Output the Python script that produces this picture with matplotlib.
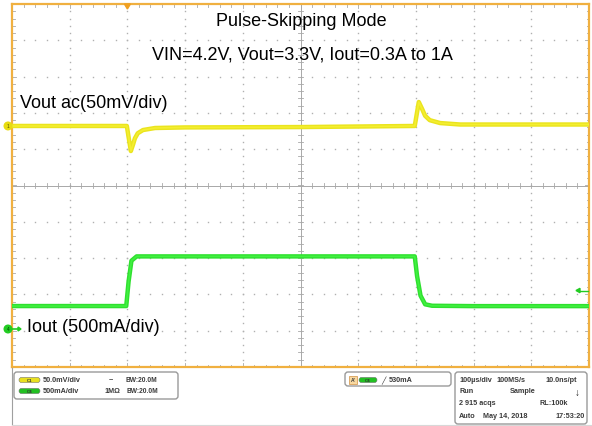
import numpy as np
import matplotlib
matplotlib.use("Agg")
import matplotlib.pyplot as plt
from matplotlib.patches import FancyBboxPatch, Circle, Polygon, Rectangle

plt.rcParams['font.family'] = ['Liberation Sans', 'DejaVu Sans']

# ---------------- data (time in µs relative to screen centre) ----------------
t_vout = [-500, -301, -298, -294, -290, -287, -282, -273, -252, -200, 0, 198, 205, 211, 216, 224, 242, 277, 500]
vout_mv = [0, 0, -15, -34.5, -25, -17, -10, -5.6, -2.8, -2, -1.5, 0, 33, 23, 14, 8, 4, 2, 2]

t_iout = [-500, -302, -298, -293, -284, -270, 0, 198, 202, 208, 216, 228, 300, 500]
iout_a = [0.316, 0.316, 0.65, 0.94, 1.0, 1.0, 1.0, 1.0, 0.73, 0.46, 0.34, 0.32, 0.315, 0.315]

ch1_offset_div = 1.64      # Vout ac ground marker
ch4_offset_div = -3.953    # Iout ground marker
ch1_scale_mv = 50.0
ch4_scale_a = 0.5
trig_level_a = 0.53
trig_time_us = -300

title1 = "Pulse-Skipping Mode"
title2 = "VIN=4.2V, Vout=3.3V, Iout=0.3A to 1A"
label1 = "Vout ac(50mV/div)"
label4 = "Iout (500mA/div)"

W, H = 592, 427
fig = plt.figure(figsize=(W / 100, H / 100), dpi=100)
fig.patch.set_facecolor('white')

L, R, T, B = 12, 589, 5, 368
ax = fig.add_axes([L / W, 1 - B / H, (R - L) / W, (B - T) / H])
ax.set_xlim(-500, 500)
ax.set_ylim(-5, 5)
ax.set_xticks([]); ax.set_yticks([])
orange = '#F0B040'
for s in ax.spines.values():
    s.set_color(orange)
    s.set_linewidth(1.6)

gcol = '#B0B0B0'
# dotted graticule
xmaj = np.arange(-400, 401, 100)
ymaj = np.arange(-4, 5, 1)
xmin_ = np.arange(-500, 501, 20)
ymin_ = np.arange(-5, 5.01, 0.2)
for xv in xmaj:
    if xv == 0:
        continue
    ax.plot(np.full_like(ymin_, xv, dtype=float), ymin_, ls='none', marker='s', ms=1.0, mew=0, color=gcol, zorder=1)
for yv in ymaj:
    if yv == 0:
        continue
    ax.plot(xmin_, np.full_like(xmin_, yv, dtype=float), ls='none', marker='s', ms=1.0, mew=0, color=gcol, zorder=1)

# centre crosshair
ax.axhline(0, color='#A8A8A8', lw=0.7, zorder=1)
ax.axvline(0, color='#A8A8A8', lw=0.7, zorder=1)
px_x = 1000 / (R - L)    # µs per pixel
px_y = 10 / (B - T)      # div per pixel
for xv in xmin_:
    ax.plot([xv, xv], [-2.5 * px_y, 2.5 * px_y], color='#A8A8A8', lw=0.6, zorder=1)
for yv in ymin_:
    ax.plot([-2.5 * px_x, 2.5 * px_x], [yv, yv], color='#A8A8A8', lw=0.6, zorder=1)
# edge ticks
for xv in xmin_:
    ln = 4 if abs(xv / 100 - round(xv / 100)) < 1e-6 else 2.5
    ax.plot([xv, xv], [-5, -5 + ln * px_y], color='#A8A8A8', lw=0.6, zorder=1)
    ax.plot([xv, xv], [5, 5 - ln * px_y], color='#A8A8A8', lw=0.6, zorder=1)
for yv in ymin_:
    ln = 4 if abs(yv - round(yv)) < 1e-6 else 2.5
    ax.plot([-500, -500 + ln * px_x], [yv, yv], color='#A8A8A8', lw=0.6, zorder=1)
    ax.plot([500, 500 - ln * px_x], [yv, yv], color='#A8A8A8', lw=0.6, zorder=1)

# traces
vpos = ch1_offset_div + np.array(vout_mv) / ch1_scale_mv
ipos = ch4_offset_div + np.array(iout_a) / ch4_scale_a
ax.plot(t_vout, vpos, color='#EAE41E', lw=3.2, solid_joinstyle='round', zorder=3)
ax.plot(t_vout, vpos, color='#F4EE30', lw=1.2, zorder=3)
ax.plot(t_iout, ipos, color='#2FE02F', lw=3.2, solid_joinstyle='round', zorder=3)
ax.plot(t_iout, ipos, color='#40F040', lw=1.2, zorder=3)

# ---------------- overlay in pixel coordinates ----------------
ov = fig.add_axes([0, 0, 1, 1], zorder=5)
ov.set_xlim(0, W); ov.set_ylim(H, 0)
ov.axis('off')
ov.patch.set_alpha(0)

def tx(x):
    return L + (x + 500) / 1000 * (R - L)

def ty(d):
    return T + (5 - d) / 10 * (B - T)

ov.text(301, 22, title1, ha='center', va='center', fontsize=13, color='black')
ov.text(302, 55, title2, ha='center', va='center', fontsize=13, color='black')
ov.text(20, 104, label1, ha='left', va='center', fontsize=13, color='black')
ov.text(27, 328, label4, ha='left', va='center', fontsize=13, color='black')

# channel markers
y1 = ty(ch1_offset_div)
ov.add_patch(Circle((8, y1), 3.8, color='#E8DC10', zorder=6))
ov.text(8, y1, '1', ha='center', va='center', fontsize=3.5, color='#555500', zorder=7)
y4 = ty(ch4_offset_div)
ov.add_patch(Circle((8, y4), 3.8, color='#22CC22', zorder=6))
ov.text(8, y4, '4', ha='center', va='center', fontsize=3.5, color='#004400', zorder=7)
ov.plot([11, 18], [y4, y4], color='#22CC22', lw=1.2, zorder=6)
ov.add_patch(Polygon([[18, y4 - 2], [21, y4], [18, y4 + 2]], color='#22CC22', zorder=6))
# trigger level marker
yt = ty(ch4_offset_div + trig_level_a / ch4_scale_a)
ov.add_patch(Polygon([[576, yt], [580, yt - 2.2], [580, yt + 2.2]], color='#22CC22', zorder=6))
ov.plot([580, 588], [yt, yt], color='#22CC22', lw=1.0, zorder=6)
# trigger position marker
xt = tx(trig_time_us)
ov.add_patch(Polygon([[xt - 3, 5], [xt + 3, 5], [xt, 10]], color='#F0A020', zorder=6))

# ---------------- bottom status panel ----------------
ov.plot([12, 12], [369, 426], color='#A0A0A0', lw=0.8)
ov.plot([12, 592], [425.5, 425.5], color='#D8D8D8', lw=0.8)
bcol = '#9A9A9A'
for (x0, y0, x1, y1b) in [(14, 373, 178, 400), (345, 373, 451, 387), (455, 373, 587, 425)]:
    ov.add_patch(FancyBboxPatch((x0, y0), x1 - x0, y1b - y0,
                                boxstyle='round,pad=0,rounding_size=3',
                                fc='white', ec=bcol, lw=1.0, zorder=4))

tcol = '#3A3A3A'
fs = 5.2
def txt(x, y, s, **kw):
    d = dict(ha='left', va='center', fontsize=fs, color=tcol, weight='bold', zorder=8)
    d.update(kw)
    ov.text(x, y, s, **d)

def pill(x, y, w, col, label):
    ov.add_patch(FancyBboxPatch((x, y - 2.6), w, 5.2, boxstyle='round,pad=0,rounding_size=2.6',
                                fc=col, ec='#777777', lw=0.4, zorder=6))
    txt(x + w / 2, y, label, ha='center', fontsize=3.2, color='#333333')

pill(19, 381, 21, '#E8E020', 'C1')
pill(19, 392, 21, '#22C022', 'C4')
txt(43, 381, '50.0mV/div')
txt(43, 392, '500mA/div')
txt(109, 381, '~')
txt(104, 392, '1MΩ')
txt(157, 381, 'BW:20.0M', ha='right', fontsize=4.8)
txt(158, 392, 'BW:20.0M', ha='right', fontsize=4.8)

ov.add_patch(Rectangle((349, 377), 8, 8, fc='#F8D8A0', ec='#D09040', lw=0.5, zorder=6))
txt(353, 381, "A'", ha='center', fontsize=3.6)
pill(359, 381, 18, '#22C022', 'C4')
txt(381, 381, '╱', weight='normal')
txt(389, 381, '530mA')

rows = [
    (381, [(459, '100µs/div'), (496, '100MS/s'), (545, '10.0ns/pt')]),
    (392, [(459, 'Run'), (510, 'Sample')]),
    (404, [(459, '2 915 acqs'), (540, 'RL:100k')]),
    (417, [(459, 'Auto'), (483, 'May 14, 2018'), (555, '17:53:20')]),
]
for yy, items in rows:
    for xx, s in items:
        txt(xx, yy, s)
txt(577, 393, '↓', ha='center', fontsize=7, color='#222222')

fig.savefig('out.png', dpi=100, facecolor='white')
